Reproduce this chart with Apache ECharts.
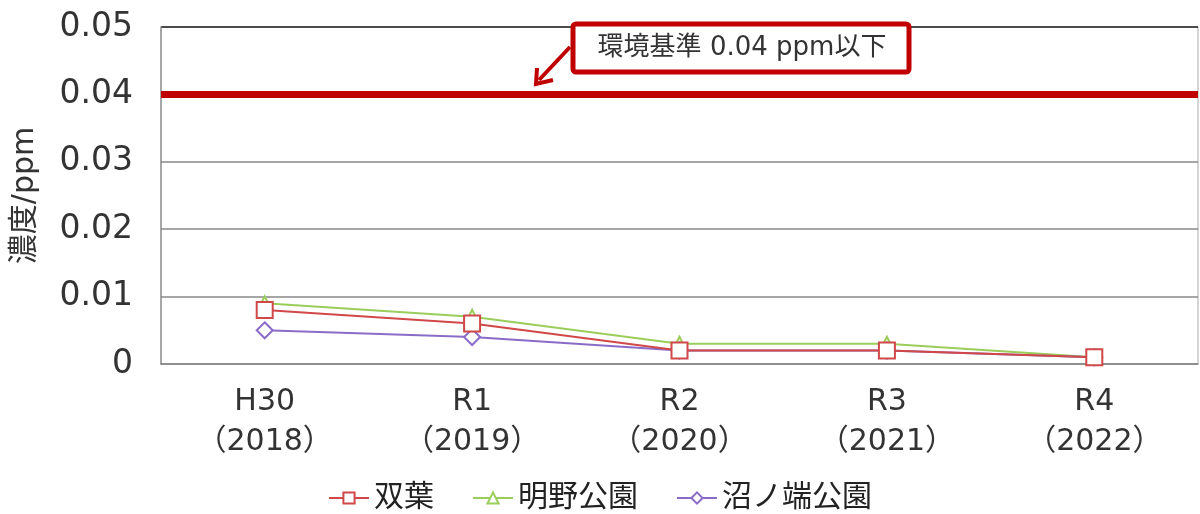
<!DOCTYPE html>
<html>
<head>
<meta charset="utf-8">
<script src="https://cdn.jsdelivr.net/npm/echarts@6/dist/echarts.min.js"></script>
<style>
html,body{margin:0;padding:0;background:#fff;}
#chart{width:1200px;height:514px;}
</style>
</head>
<body>
<div id="chart"></div>
<script>
// 年度
var categories = ['H30\n（2018）', 'R1\n（2019）', 'R2\n（2020）', 'R3\n（2021）', 'R4\n（2022）'];
// 濃度 ppm
var futaba = [0.008, 0.006, 0.002, 0.002, 0.001];
var akenoPark = [0.009, 0.007, 0.003, 0.003, 0.001];
var numanohataPark = [0.005, 0.004, 0.002, 0.002, 0.001];
var standard = 0.04;
var yTicks = [0, 0.01, 0.02, 0.03, 0.04, 0.05];

var font = '"DejaVu Sans", "Noto Sans CJK JP", sans-serif';

var chart = echarts.init(document.getElementById('chart'));
chart.setOption({
  animation: false,
  textStyle: { fontFamily: font },
  grid: { left: 161, right: 2, top: 27, bottom: 150 },
  legend: {
    bottom: -4,
    left: 'center',
    itemWidth: 40,
    itemHeight: 14,
    itemGap: 38,
    textStyle: { fontSize: 30, color: '#222', fontFamily: font },
    data: ['双葉', '明野公園', '沼ノ端公園']
  },
  xAxis: {
    type: 'category',
    data: categories,
    boundaryGap: true,
    axisLine: { lineStyle: { color: '#888', width: 1.5 } },
    axisTick: { show: false },
    axisLabel: { fontSize: 30, color: '#333', lineHeight: 40, margin: 18, fontFamily: font }
  },
  yAxis: {
    type: 'value',
    min: 0,
    max: 0.05,
    interval: 0.01,
    name: '濃度/ppm',
    nameLocation: 'middle',
    nameGap: 121,
    nameRotate: 90,
    nameTextStyle: { fontSize: 30, color: '#333', fontFamily: font },
    axisLine: { show: true, lineStyle: { color: '#888', width: 1.5 } },
    axisTick: { show: false },
    axisLabel: {
      fontSize: 33, color: '#333', margin: 28, fontFamily: font,
      formatter: function (v) { return v === 0 ? '0' : v.toFixed(2); }
    },
    splitLine: {
      lineStyle: {
        color: yTicks.map(function (t) { return t === 0.05 ? '#111' : '#888'; }),
        width: 1.5
      }
    }
  },
  graphic: [
    // 右枠
    { type: 'line', shape: { x1: 1198, y1: 27, x2: 1198, y2: 364 }, style: { stroke: '#aaa', lineWidth: 1 } },
    // 注記ボックス
    {
      type: 'rect', shape: { x: 573, y: 24, width: 336, height: 48, r: 3 },
      style: { fill: '#fff', stroke: '#c00000', lineWidth: 5 }, z: 100
    },
    {
      type: 'text', x: 742, y: 48, z: 101,
      style: {
        text: '環境基準 0.04 ppm以下', fontSize: 26, fontFamily: font, fill: '#333',
        align: 'center', verticalAlign: 'middle'
      }
    },
    // 矢印
    { type: 'line', shape: { x1: 570, y1: 47, x2: 539, y2: 80 }, style: { stroke: '#c00000', lineWidth: 4 }, z: 100 },
    { type: 'polyline', shape: { points: [[537, 68], [536, 84], [553, 80]] }, style: { stroke: '#c00000', lineWidth: 4, fill: null }, z: 100 }
  ],
  series: [
    {
      name: '双葉', type: 'line', data: futaba,
      symbol: 'emptyRect', symbolSize: 16, z: 3,
      lineStyle: { color: '#d04848', width: 2 },
      itemStyle: { color: '#d04848', borderWidth: 2 },
      markLine: {
        silent: true, symbol: 'none', label: { show: false },
        lineStyle: { color: '#c00000', width: 7, type: 'solid' },
        data: [{ yAxis: standard }]
      }
    },
    {
      name: '明野公園', type: 'line', data: akenoPark,
      symbol: 'emptyTriangle', symbolSize: 14, z: 2,
      lineStyle: { color: '#9acd5a', width: 2 },
      itemStyle: { color: '#9acd5a', borderWidth: 2 }
    },
    {
      name: '沼ノ端公園', type: 'line', data: numanohataPark,
      symbol: 'emptyDiamond', symbolSize: 16, z: 2,
      lineStyle: { color: '#8a6cc8', width: 2 },
      itemStyle: { color: '#8a6cc8', borderWidth: 2 }
    }
  ]
});
</script>
</body>
</html>
